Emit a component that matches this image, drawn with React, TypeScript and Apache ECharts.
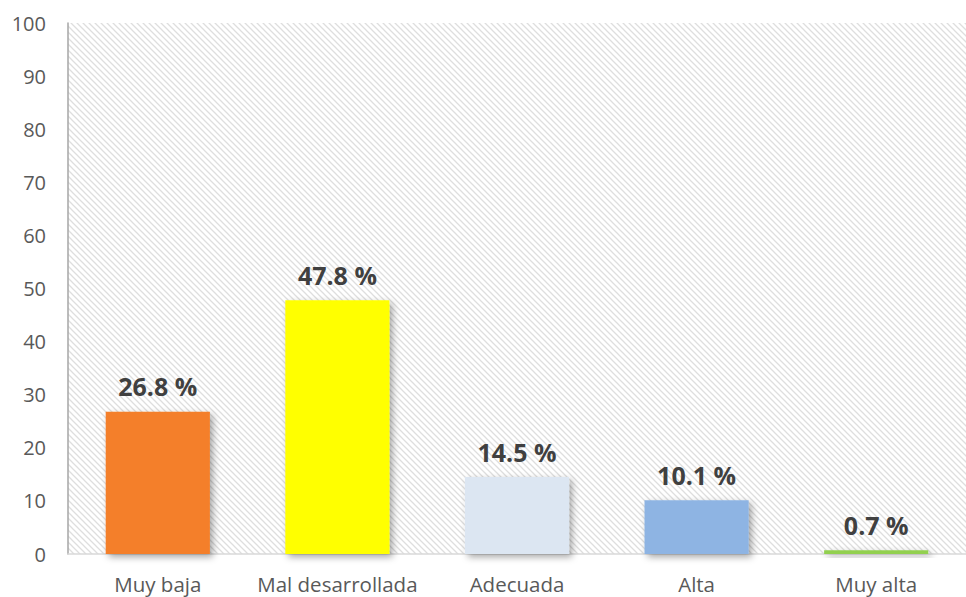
import React, { useEffect, useRef } from "react";
import * as echarts from "echarts";

const categories = ["Muy baja", "Mal desarrollada", "Adecuada", "Alta", "Muy alta"];
const values = [26.8, 47.8, 14.5, 10.1, 0.7];
const barColors = ["#F47F2B", "#FFFF00", "#DCE6F2", "#8EB4E3", "#92D050"];

function makeHatch(): string {
  const c = document.createElement("canvas");
  const s = 6;
  c.width = s;
  c.height = s;
  const ctx = c.getContext("2d")!;
  ctx.fillStyle = "#ffffff";
  ctx.fillRect(0, 0, s, s);
  ctx.strokeStyle = "#dedede";
  ctx.lineWidth = 1.3;
  ctx.beginPath();
  ctx.moveTo(-1, -1);
  ctx.lineTo(s + 1, s + 1);
  ctx.moveTo(-1, s - 1);
  ctx.lineTo(1, s + 1);
  ctx.moveTo(s - 1, -1);
  ctx.lineTo(s + 1, 1);
  ctx.stroke();
  return c.toDataURL();
}

export default function App() {
  const ref = useRef<HTMLDivElement>(null);
  useEffect(() => {
    if (!ref.current) return;
    const chart = echarts.init(ref.current, null, { renderer: "svg" });
    const hatch = makeHatch();
    chart.setOption({
      animation: false,
      textStyle: { fontFamily: "'Open Sans', sans-serif" },
      grid: {
        left: 68,
        right: 0,
        top: 23,
        bottom: 43,
        show: true,
        borderWidth: 0,
        backgroundColor: { image: hatch, repeat: "repeat" } as any,
      },
      xAxis: {
        type: "category",
        data: categories,
        axisLine: { show: true, lineStyle: { color: "#d9d9d9", width: 1.5 } },
        axisTick: { show: false },
        axisLabel: { color: "#595959", fontSize: 20.5, margin: 19, interval: 0, hideOverlap: false },
      },
      yAxis: {
        type: "value",
        min: 0,
        max: 100,
        interval: 10,
        axisLine: { show: true, lineStyle: { color: "#a6a6a6", width: 1.5 } },
        axisTick: { show: false },
        splitLine: { show: false },
        axisLabel: { color: "#595959", fontSize: 20, margin: 22 },
      },
      series: [
        {
          type: "bar",
          data: values.map((v, i) => ({ value: v, itemStyle: { color: barColors[i] } })),
          barWidth: "58%",
          itemStyle: {
            shadowBlur: 7,
            shadowOffsetX: 3,
            shadowOffsetY: 3,
            shadowColor: "rgba(0,0,0,0.35)",
          },
          label: {
            show: true,
            position: "top",
            distance: 13,
            formatter: (p: any) => p.value.toFixed(1) + " %",
            color: "#404040",
            fontWeight: "bold",
            fontSize: 25,
          },
        },
      ],
    });
    return () => chart.dispose();
  }, []);
  return <div ref={ref} style={{ width: 966, height: 597, position: "absolute", left: 0, top: 0 }} />;
}
